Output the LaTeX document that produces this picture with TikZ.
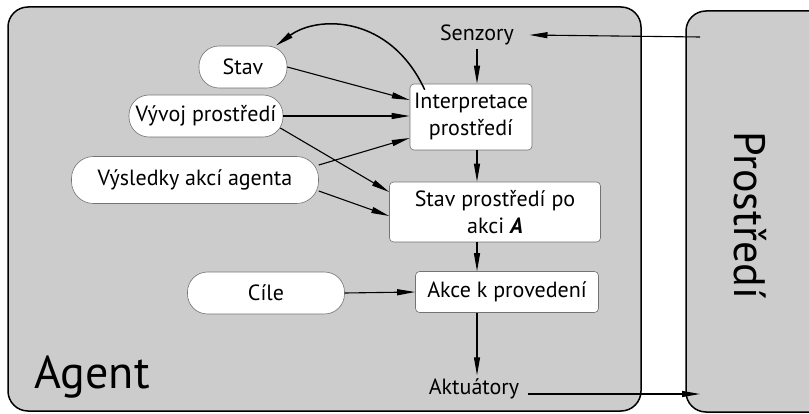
\documentclass[tikz,border=0pt]{standalone}
\usepackage{fontspec}
\setmainfont{PT Sans}
\usetikzlibrary{arrows.meta}
\definecolor{panel}{gray}{0.8}
\definecolor{edge}{gray}{0.45}
\begin{document}
\begin{tikzpicture}[x=1pt,y=-1pt,
  every node/.style={font=\fontsize{22}{27}\selectfont},
  pill/.style={draw=edge, line width=0.6pt, fill=white, rounded corners=20pt,
    inner sep=0pt, minimum height=42pt, align=center},
  stage/.style={draw=edge, line width=0.6pt, fill=white, rounded corners=4pt,
    inner sep=0pt, align=center},
  flow/.style={line width=1.1pt, -{Triangle[length=18pt,width=6pt]}},
  frame/.style={draw=black, line width=1.5pt, fill=panel, rounded corners=20pt},
  biglabel/.style={font=\fontsize{46}{52}\selectfont}]
\clip (0,0) rectangle (809,414);

% agent and environment panels
\draw[frame] (8,7) rectangle (641,411);
\draw[frame] (686,11) rectangle (860,412);

% knowledge sources
\node[pill, minimum width=88pt] (stav) at (243,67) {Stav};
\node[pill, minimum width=154pt] (vyvoj) at (206,116) {Vývoj prostředí};
\node[pill, minimum width=247pt, minimum height=47pt, rounded corners=22pt] (vysl) at (195,180) {Výsledky akcí agenta};
\node[pill, minimum width=157pt] (cile) at (266,293) {Cíle};

% processing stages
\node[stage, minimum width=122pt, minimum height=66pt] (interp) at (471,117) {Interpretace\\prostředí};
\node[stage, minimum width=211pt, minimum height=60pt] (stavpo) at (495,212) {Stav prostředí po\\akci \textbf{\textit{A}}};
\node[stage, minimum width=183pt, minimum height=41pt] (akce) at (507,292) {Akce k provedení};

% interface labels
\node (sen) at (477,35) {Senzory};
\node (akt) at (474,389) {Aktuátory};
\node[biglabel, anchor=base west] (agentlbl) at (31,388) {Agent};
\node[biglabel, font=\fontsize{44}{50}\selectfont, rotate=-90] (envlbl) at (750,215) {Prostředí};

\coordinate (envin) at (700,37);
\coordinate (envout) at (700,394);

% connectors
\draw[flow] (envin) -- ([xshift=12pt]sen.east);
\draw[flow] (sen.south) -- (interp.north -| sen.south);
\draw[flow] (interp.south -| sen.south) -- (stavpo.north -| sen.south);
\draw[flow] (stavpo.south -| sen.south) -- (akce.north -| sen.south);
\draw[flow] (akce.south -| sen.south) -- (akt.north -| sen.south);
\draw[flow] ([xshift=5pt]akt.east |- envout) -- (envout);

\draw[flow] (stav.east) -- ([yshift=17pt]interp.west);
\draw[flow] (vyvoj.east) -- (interp.west |- vyvoj.east);
\draw[flow] ([xshift=-3pt,yshift=-12pt]vyvoj.east) -- ([yshift=20pt]stavpo.west);
\draw[flow] ([yshift=15pt]vysl.east) -- ([yshift=-21pt]interp.west);
\draw[flow] ([yshift=-11pt]vysl.east) -- ([yshift=-4pt]stavpo.west);
\draw[flow] (cile.east) -- (akce.west);

\draw[flow, line width=1.5pt] ([xshift=15pt,yshift=-6pt]interp.north west)
  .. controls (390,15) and (318,15) .. ([xshift=33pt]stav.north);
\end{tikzpicture}
\end{document}
